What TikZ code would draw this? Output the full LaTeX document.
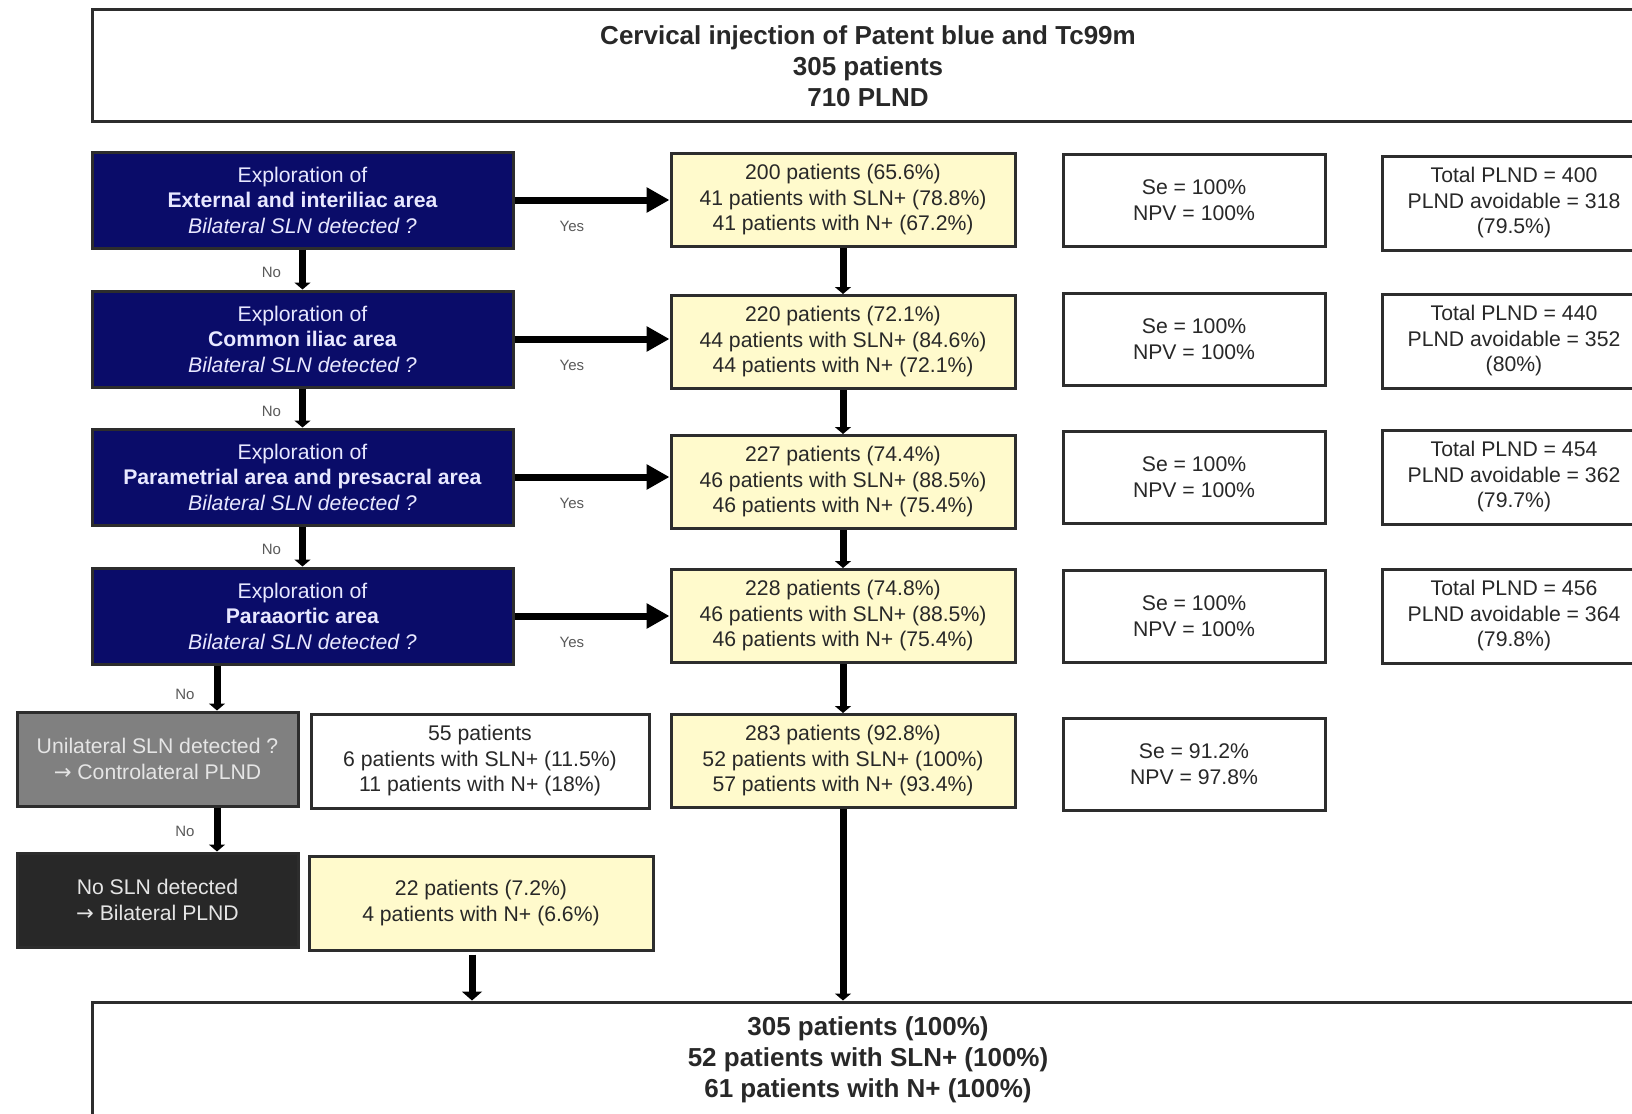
\documentclass[tikz,border=0pt]{standalone}
\usepackage{fontspec}
\setmainfont{Liberation Sans}
\newfontfamily\arrowfont{DejaVu Sans}
\usetikzlibrary{arrows.meta,positioning}

\definecolor{navybox}{RGB}{10,12,105}
\definecolor{paleyellow}{RGB}{255,250,204}
\definecolor{midgray}{RGB}{128,128,128}
\definecolor{darkbox}{RGB}{40,40,40}
\definecolor{edgegray}{RGB}{45,45,45}
\definecolor{lighttext}{RGB}{232,232,255}
\definecolor{bodytext}{RGB}{40,40,40}

\newcommand{\toarrow}{{\arrowfont →}}

\tikzset{
  box/.style={draw=edgegray, line width=3pt, align=center, inner sep=0pt,
    text=bodytext, font=\fontsize{21.2}{25.5}\selectfont},
  bigbox/.style={box, fill=white, minimum width=1552pt,
    font=\fontsize{26}{31}\selectfont\bfseries},
  explore/.style={box, fill=navybox, text=lighttext, minimum width=421pt, minimum height=96pt},
  result/.style={box, fill=paleyellow, minimum width=344pt, minimum height=93pt},
  stats/.style={box, fill=white, minimum width=262pt, minimum height=92pt},
  plnd/.style={box, fill=white, minimum width=264pt, minimum height=94pt},
  fallback/.style={box, text=white!90!black, minimum width=281pt, minimum height=94pt},
  lab/.style={font=\fontsize{15}{17}\selectfont, text=black!65},
  yesarrow/.style={line width=7pt, -{Triangle[length=23pt,width=24pt]}},
  downarrow/.style={line width=7pt, -{Triangle[length=7pt,width=16pt]}},
}

\begin{document}
\begin{tikzpicture}[x=1pt,y=-1pt]
\useasboundingbox (0,0) rectangle (1632,1113);
\clip (0,0) rectangle (1632,1113);

% top and bottom
\node[bigbox, minimum height=112pt] (T) at (868,66)
  {Cervical injection of Patent blue and Tc99m\\305 patients\\710 PLND};
\node[bigbox, minimum height=116pt] (R) at (868,1060)
  {305 patients (100\%)\\52 patients with SLN+ (100\%)\\61 patients with N+ (100\%)};

% exploration steps
\node[explore] (B1) at (302.5,200)
  {Exploration of\\\textbf{External and interiliac area}\\\textit{Bilateral SLN detected ?}};
\node[explore] (B2) at (302.5,339)
  {Exploration of\\\textbf{Common iliac area}\\\textit{Bilateral SLN detected ?}};
\node[explore] (B3) at (302.5,477)
  {Exploration of\\\textbf{Parametrial area and presacral area}\\\textit{Bilateral SLN detected ?}};
\node[explore] (B4) at (302.5,616)
  {Exploration of\\\textbf{Paraaortic area}\\\textit{Bilateral SLN detected ?}};

% cumulative results
\node[result] (Y1) at (843,200)
  {200 patients (65.6\%)\\41 patients with SLN+ (78.8\%)\\41 patients with N+ (67.2\%)};
\node[result] (Y2) at (843,342)
  {220 patients (72.1\%)\\44 patients with SLN+ (84.6\%)\\44 patients with N+ (72.1\%)};
\node[result] (Y3) at (843,482)
  {227 patients (74.4\%)\\46 patients with SLN+ (88.5\%)\\46 patients with N+ (75.4\%)};
\node[result] (Y4) at (843,616)
  {228 patients (74.8\%)\\46 patients with SLN+ (88.5\%)\\46 patients with N+ (75.4\%)};
\node[result] (Y5) at (843,761)
  {283 patients (92.8\%)\\52 patients with SLN+ (100\%)\\57 patients with N+ (93.4\%)};

% sensitivity / NPV
\foreach \i/\y in {1/200,2/339,3/477,4/616}
  \node[stats] (S\i) at (1194,\y) {Se = 100\%\\NPV = 100\%};
\node[stats] (S5) at (1194,764) {Se = 91.2\%\\NPV = 97.8\%};

% PLND counts
\node[plnd] (P1) at (1514,203) {Total PLND = 400\\PLND avoidable = 318\\(79.5\%)};
\node[plnd] (P2) at (1514,341) {Total PLND = 440\\PLND avoidable = 352\\(80\%)};
\node[plnd] (P3) at (1514,477) {Total PLND = 454\\PLND avoidable = 362\\(79.7\%)};
\node[plnd] (P4) at (1514,616) {Total PLND = 456\\PLND avoidable = 364\\(79.8\%)};

% unilateral / none
\node[fallback, fill=midgray] (G) at (157.5,759)
  {Unilateral SLN detected ?\\\toarrow{} Controlateral PLND};
\node[box, fill=white, minimum width=338pt, minimum height=94pt] (U) at (480,761)
  {55 patients\\6 patients with SLN+ (11.5\%)\\11 patients with N+ (18\%)};
\node[fallback, fill=darkbox] (D) at (157.5,900)
  {No SLN detected\\\toarrow{} Bilateral PLND};
\node[result, minimum height=94pt] (Y6) at (481,903)
  {22 patients (7.2\%)\\4 patients with N+ (6.6\%)};

% connectors
\foreach \i in {1,...,4}
  \draw[yesarrow] (B\i.east) -- (B\i.east -| Y\i.west)
    node[lab, pos=0.37, yshift=-26pt] (yes\i) {Yes};
\foreach \i/\j in {1/2,2/3,3/4}
  \draw[downarrow] (B\i.south) -- (B\j.north)
    node[lab, midway, xshift=-31pt, yshift=-3pt] (no\i) {No};
\foreach \i/\j in {1/2,2/3,3/4,4/5}
  \draw[downarrow] (Y\i.south) -- (Y\j.north);
\draw[downarrow] (Y5.south) -- (Y5.south |- R.north);

\coordinate (gn) at ([xshift=59.5pt]G.north);
\draw[downarrow] (gn |- B4.south) -- (gn)
  node[lab, midway, xshift=-32pt, yshift=-6pt] (no4) {No};
\draw[downarrow] (gn |- G.south) -- (gn |- D.north)
  node[lab, midway, xshift=-32pt, yshift=-2pt] (no5) {No};

\coordinate (dn) at ([xshift=-9pt, yshift=-3pt]Y6.south);
\draw[line width=7pt, -{Triangle[length=9pt,width=20pt]}] (dn) -- (dn |- R.north);
\end{tikzpicture}
\end{document}
